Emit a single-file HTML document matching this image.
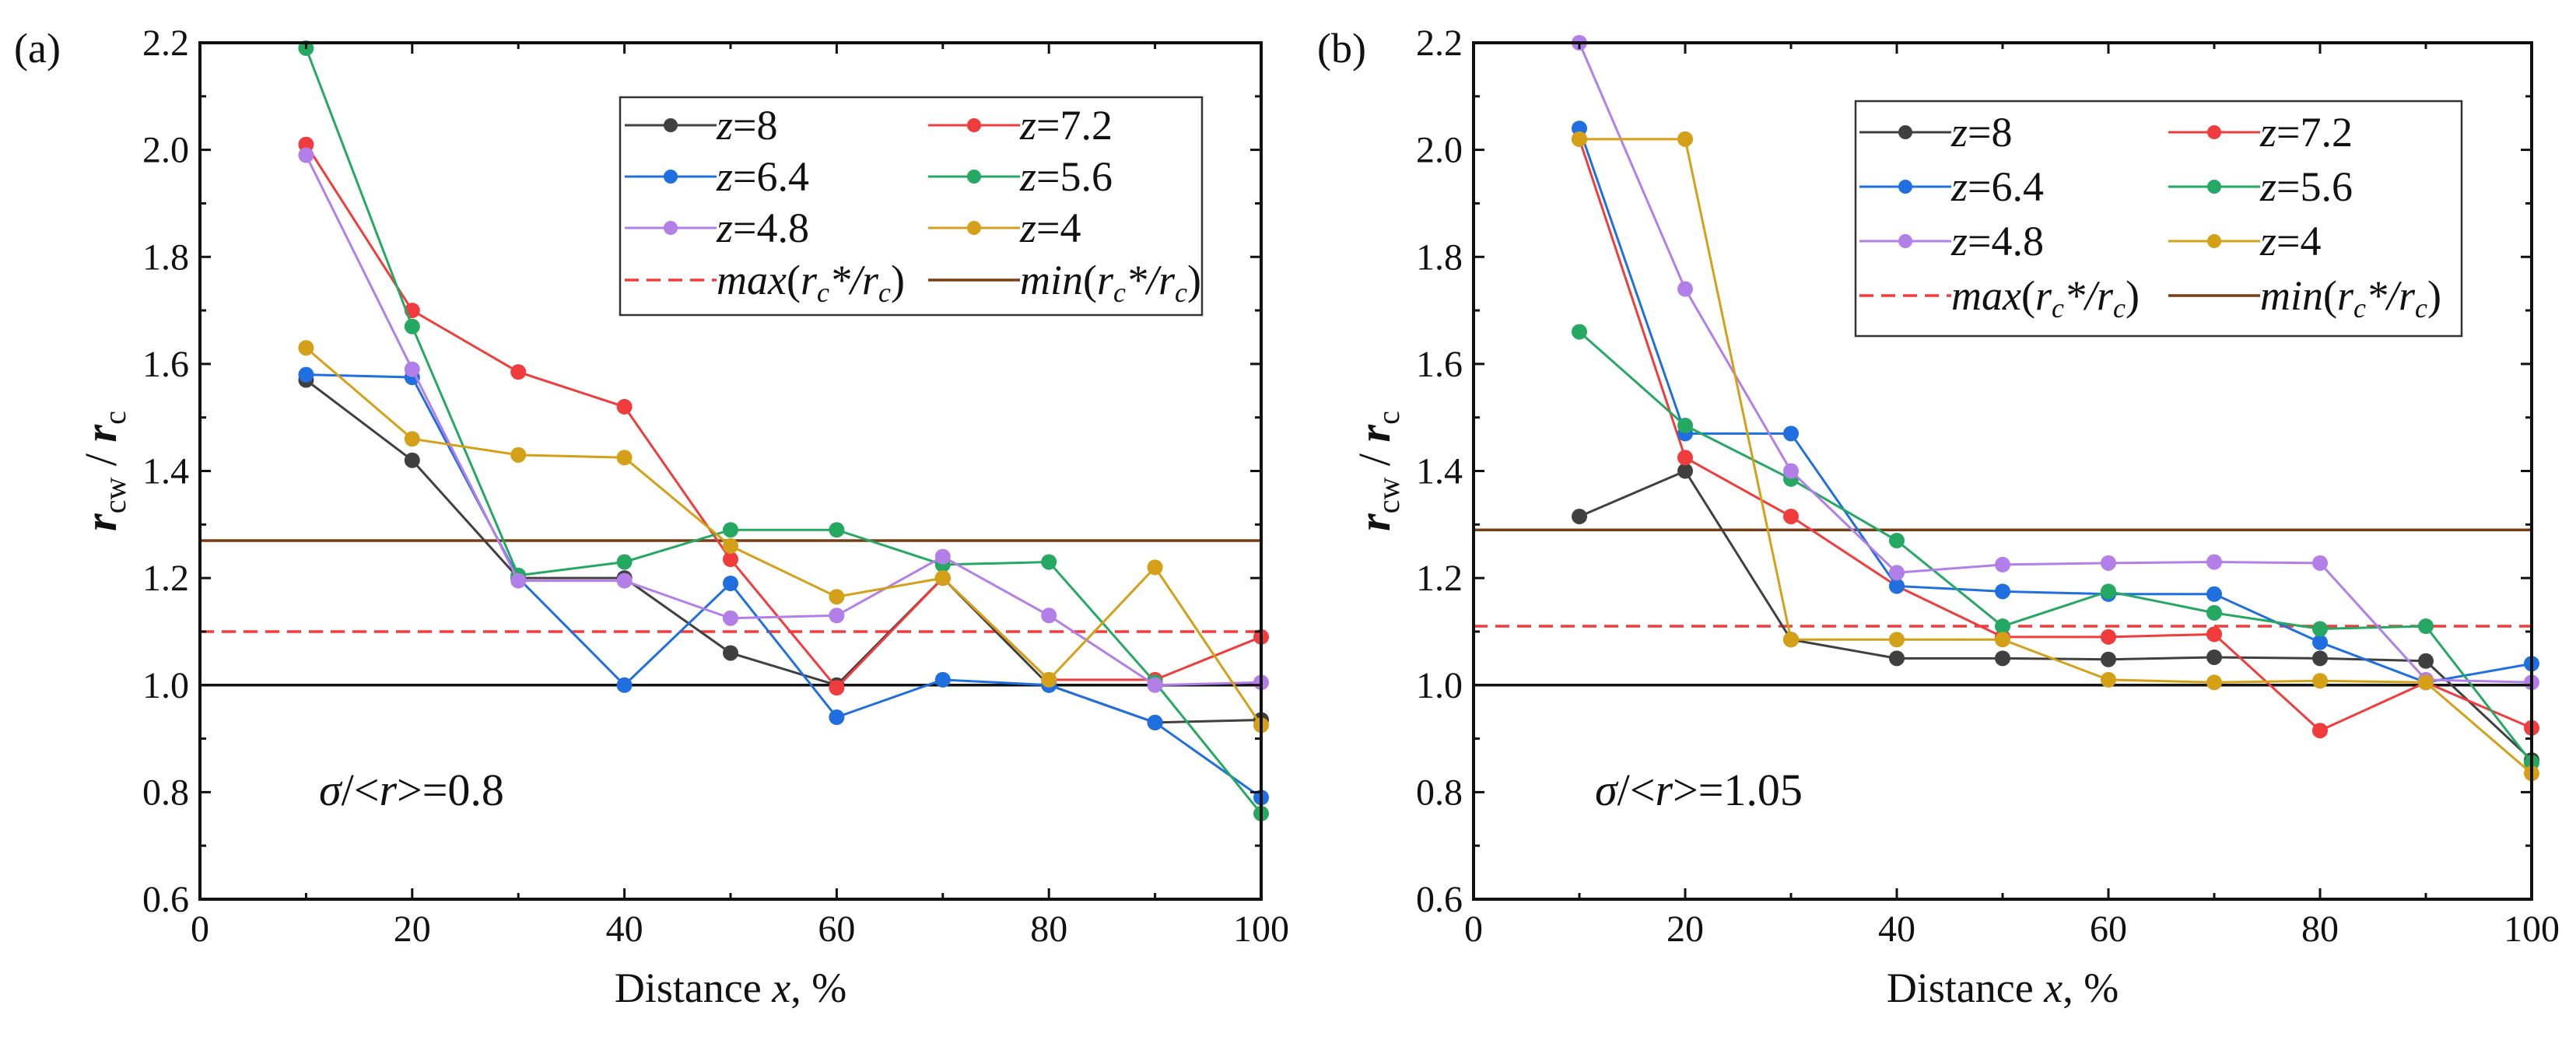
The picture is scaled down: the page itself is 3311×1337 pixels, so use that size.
<!DOCTYPE html>
<html><head><meta charset="utf-8"><style>
html,body{margin:0;padding:0;background:#fff;}
svg, svg text{font-family:"Liberation Serif","Times New Roman",serif;}
</style></head><body>
<svg id="fig" width="3311" height="1332" viewBox="0 0 3311 1332" xmlns="http://www.w3.org/2000/svg" font-family="Liberation Serif, serif"></svg>
<script>
const xCats = [10,20,30,40,50,60,70,80,90,100];
const xTicks = [0,20,40,60,80,100];
const yTicks = [0.6,0.8,1.0,1.2,1.4,1.6,1.8,2.0,2.2];
const seriesNames = ["z=8","z=7.2","z=6.4","z=5.6","z=4.8","z=4"];
const seriesLabels = ["8","7.2","6.4","5.6","4.8","4"];
const colors = ["#404040","#f03c3c","#1f6fe0","#25a862","#b27fe8","#d4a018"];
const a_z8  = [1.57,1.42,1.20,1.20,1.06,1.00,1.20,1.00,0.93,0.935];
const a_z72 = [2.01,1.70,1.585,1.52,1.235,0.995,1.20,1.01,1.01,1.09];
const a_z64 = [1.58,1.575,1.20,1.00,1.19,0.94,1.01,1.00,0.93,0.79];
const a_z56 = [2.19,1.67,1.205,1.23,1.29,1.29,1.225,1.23,1.005,0.76];
const a_z48 = [1.99,1.59,1.195,1.195,1.125,1.13,1.24,1.13,1.00,1.005];
const a_z4  = [1.63,1.46,1.43,1.425,1.26,1.165,1.20,1.01,1.22,0.925];
const b_z8  = [1.315,1.40,1.085,1.05,1.05,1.048,1.052,1.05,1.045,0.86];
const b_z72 = [2.02,1.425,1.315,1.185,1.09,1.09,1.095,0.915,1.005,0.92];
const b_z64 = [2.04,1.47,1.47,1.185,1.175,1.17,1.17,1.08,1.005,1.04];
const b_z56 = [1.66,1.485,1.385,1.27,1.11,1.175,1.135,1.105,1.11,0.855];
const b_z48 = [2.2,1.74,1.40,1.21,1.225,1.228,1.23,1.228,1.01,1.005];
const b_z4  = [2.02,2.02,1.085,1.085,1.085,1.01,1.005,1.008,1.005,0.835];
const a_max = 1.10, a_min = 1.27;
const b_max = 1.11, b_min = 1.29;
const refLine = 1.0;

const NS="http://www.w3.org/2000/svg";
const svg=document.getElementById('fig');
const FF='Liberation Serif, serif';
function mk(tag,attrs,parent){const e=document.createElementNS(NS,tag);for(const k in attrs)e.setAttribute(k,attrs[k]);if(tag==='text')e.setAttribute('font-family',FF);(parent||svg).appendChild(e);return e;}

function panel(id,L,R,T,B,series,maxv,minv,tag,sigma,legBox){
  const g=mk('g',{});
  
  
  const X=v=>L+(v-0)/100*(R-L);
  const Y=v=>B-(v-0.6)/1.6*(B-T);
  let l=mk('line',{x1:L,x2:R,y1:Y(refLine),y2:Y(refLine),stroke:'#111','stroke-width':3.5},g);
  
  
  l=mk('line',{x1:L,x2:R,y1:Y(minv),y2:Y(minv),stroke:'#7a3c14','stroke-width':3.5},g);
  
  
  l=mk('line',{x1:L,x2:R,y1:Y(maxv),y2:Y(maxv),stroke:'#f03c3c','stroke-width':3.5,'stroke-dasharray':'18 10'},g);
  
  
  series.forEach((s,i)=>{
    const sg=mk('g',{},g);
    
    
    const pts=s.map((v,j)=>X(xCats[j])+','+Y(v)).join(' ');
    mk('polyline',{points:pts,fill:'none',stroke:colors[i],'stroke-width':3},sg);
    s.forEach((v,j)=>{
      const c=mk('circle',{cx:X(xCats[j]),cy:Y(v),r:10,fill:colors[i]},sg);
      
      
    });
  });
  const fr=mk('rect',{x:L,y:T,width:R-L,height:B-T,fill:'none',stroke:'#111','stroke-width':4},g);
  
  
  for(let v=0;v<=100;v+=10){
    const len=(v%20===0)?14:8;
    mk('line',{x1:X(v),x2:X(v),y1:B,y2:B-len,stroke:'#111','stroke-width':3},g);
    mk('line',{x1:X(v),x2:X(v),y1:T,y2:T+len,stroke:'#111','stroke-width':3},g);
  }
  for(let k=0;k<=16;k++){
    const v=0.6+k*0.1;const len=(k%2===0)?14:8;
    mk('line',{x1:L,x2:L+len,y1:Y(v),y2:Y(v),stroke:'#111','stroke-width':3},g);
    mk('line',{x1:R,x2:R-len,y1:Y(v),y2:Y(v),stroke:'#111','stroke-width':3},g);
  }
  xTicks.forEach(v=>{
    const t=mk('text',{x:X(v),y:B+54,'font-size':48,'text-anchor':'middle',fill:'#111'},g);
    t.textContent=v;
    
    
  });
  yTicks.forEach(v=>{
    const t=mk('text',{x:L-14,y:Y(v)+16,'font-size':48,'text-anchor':'end',fill:'#111'},g);
    t.textContent=v.toFixed(1);
    
    
  });
  let t=mk('text',{x:(L+R)/2,y:1288,'font-size':54,'text-anchor':'middle',fill:'#111'},g);
  t.innerHTML='Distance <tspan font-style="italic">x</tspan>, %';
  
  
  t=mk('text',{x:0,y:0,'font-size':58,'text-anchor':'middle',fill:'#111',transform:`translate(${L-108},${(T+B)/2}) rotate(-90)`},g);
  t.innerHTML='<tspan font-style="italic" font-weight="bold">r</tspan><tspan font-size="40" dy="12">cw</tspan><tspan dy="-12"> / </tspan><tspan font-style="italic" font-weight="bold">r</tspan><tspan font-size="40" dy="12">c</tspan>';
  
  
  t=mk('text',{x:tag[1],y:tag[2],'font-size':54,fill:'#111'},g);
  t.textContent=tag[0];
  
  
  t=mk('text',{x:sigma[1],y:sigma[2],'font-size':58,fill:'#111'},g);
  t.innerHTML='<tspan font-style="italic">σ</tspan>/&lt;<tspan font-style="italic">r</tspan>&gt;='+sigma[0];
  
  
  const [bx1,by1,bx2,by2,rows,c1,c2]=legBox;
  const lg=mk('g',{},g);
  
  
  mk('rect',{x:bx1,y:by1,width:bx2-bx1,height:by2-by1,fill:'#fff',stroke:'#333','stroke-width':2.5},lg);
  const lw=118;
  for(let i=0;i<6;i++){
    const cx=(i%2===0)?c1:c2, cy=rows[Math.floor(i/2)];
    const e=mk('g',{},lg);
    
    
    mk('line',{x1:cx,x2:cx+lw,y1:cy,y2:cy,stroke:colors[i],'stroke-width':3},e);
    mk('circle',{cx:cx+lw/2,cy:cy,r:9,fill:colors[i]},e);
    const tt=mk('text',{x:cx+lw,y:cy+18,'font-size':54,fill:'#111'},e);
    tt.innerHTML='<tspan font-style="italic">z</tspan>='+seriesLabels[i];
  }
  const cy=rows[3];
  let e=mk('g',{},lg);
  
  
  mk('line',{x1:c1,x2:c1+lw,y1:cy,y2:cy,stroke:'#f03c3c','stroke-width':3.5,'stroke-dasharray':'18 10'},e);
  let tt=mk('text',{x:c1+lw,y:cy+18,'font-size':54,fill:'#111'},e);
  tt.innerHTML='<tspan font-style="italic">max</tspan>(<tspan font-style="italic">r<tspan font-size="36" dy="10">c</tspan><tspan dy="-10">*/r</tspan><tspan font-size="36" dy="10">c</tspan></tspan><tspan dy="-10">)</tspan>';
  e=mk('g',{},lg);
  
  
  mk('line',{x1:c2,x2:c2+lw,y1:cy,y2:cy,stroke:'#7a3c14','stroke-width':3.5},e);
  tt=mk('text',{x:c2+lw,y:cy+18,'font-size':54,fill:'#111'},e);
  tt.innerHTML='<tspan font-style="italic">min</tspan>(<tspan font-style="italic">r<tspan font-size="36" dy="10">c</tspan><tspan dy="-10">*/r</tspan><tspan font-size="36" dy="10">c</tspan></tspan><tspan dy="-10">)</tspan>';
}

panel('a',257,1621,55,1156,[a_z8,a_z72,a_z64,a_z56,a_z48,a_z4],a_max,a_min,['(a)',18,80],['0.8',410,1035],
  [797,125,1545,405,[161,227,293,360],803,1193]);
panel('b',1894,3254,55,1156,[b_z8,b_z72,b_z64,b_z56,b_z48,b_z4],b_max,b_min,['(b)',1693,80],['1.05',2050,1035],
  [2385,130,3164,432,[170,240,310,380],2390,2787]);
</script>
</body></html>
